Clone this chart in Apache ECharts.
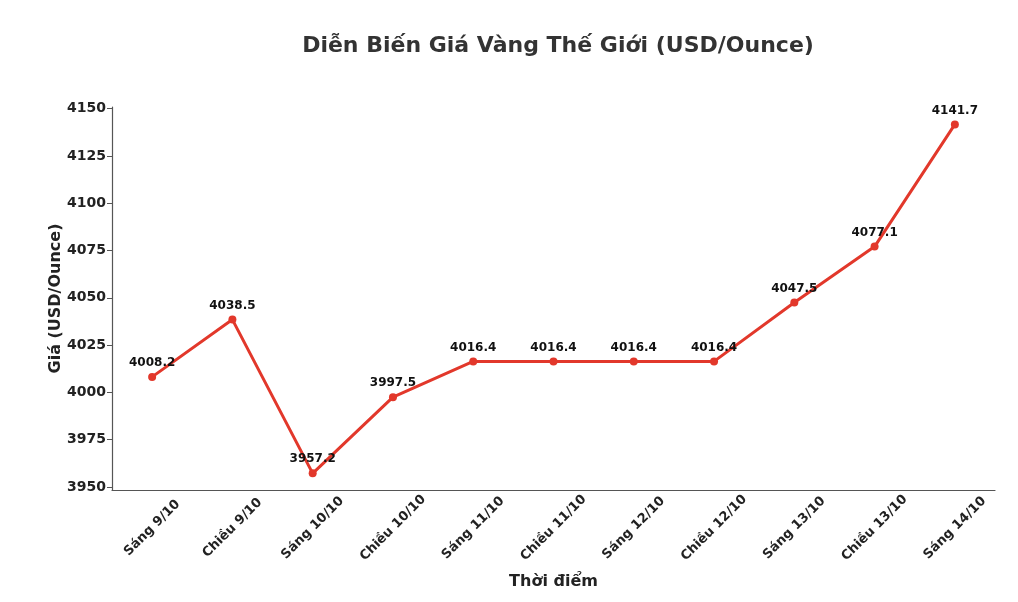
<!DOCTYPE html>
<html><head><meta charset="utf-8">
<script src="https://cdn.jsdelivr.net/npm/echarts@6/dist/echarts.min.js"></script>
<style>html,body{margin:0;padding:0;background:#fff}#c{width:1018px;height:602px}</style>
</head><body><div id="c"></div>
<script>
const categories = ['Sáng 9/10','Chiều 9/10','Sáng 10/10','Chiều 10/10','Sáng 11/10','Chiều 11/10','Sáng 12/10','Chiều 12/10','Sáng 13/10','Chiều 13/10','Sáng 14/10'];
const prices = [4008.2, 4038.5, 3957.2, 3997.5, 4016.4, 4016.4, 4016.4, 4016.4, 4047.5, 4077.1, 4141.7];
const yTicks = [3950, 3975, 4000, 4025, 4050, 4075, 4100, 4125, 4150];
const FONT = 'DejaVu Sans';
const chart = echarts.init(document.getElementById('c'), null, {renderer:'canvas'});
chart.setOption({
  animation:false,
  backgroundColor:'#fff',
  title:{text:'Diễn Biến Giá Vàng Thế Giới (USD/Ounce)', left:553, top:30, textAlign:'center',
    textStyle:{fontFamily:FONT, fontWeight:'bold', fontSize:22, color:'#333'}},
  grid:{left:112, right:23, top:107, bottom:112},
  xAxis:{type:'category', data:categories, boundaryGap:true,
    name:'Thời điểm', nameLocation:'middle', nameGap:84,
    nameTextStyle:{fontFamily:FONT, fontWeight:'bold', fontSize:16, color:'#222'},
    axisLine:{lineStyle:{color:'#555', width:1.2}},
    axisTick:{alignWithLabel:true, length:5, lineStyle:{color:'#555'}},
    axisLabel:{rotate:45, align:'center', verticalAlign:'middle', fontFamily:FONT, fontWeight:'bold', fontSize:13, color:'#222', margin:38, interval:0},
    splitLine:{show:false}},
  yAxis:{type:'value', min:3948.4, max:4150.9,
    name:'Giá (USD/Ounce)', nameLocation:'middle', nameGap:48, nameRotate:90, nameMoveOverlap:false,
    nameTextStyle:{fontFamily:FONT, fontWeight:'bold', fontSize:16, color:'#222'},
    axisLine:{show:true, lineStyle:{color:'#555', width:1.2}},
    axisTick:{show:true, length:5, lineStyle:{color:'#555'}, customValues: yTicks},
    axisLabel:{fontFamily:FONT, fontWeight:'bold', fontSize:14, color:'#222', margin:6, customValues: yTicks,
      formatter:v=>String(v)},
    splitLine:{show:false}},
  series:[{type:'line', data:prices, symbol:'circle', symbolSize:8,
    lineStyle:{color:'#e2382b', width:3}, itemStyle:{color:'#e2382b'},
    label:{show:true, position:'top', distance:4, fontFamily:FONT, fontWeight:'bold', fontSize:12, color:'#111',
      formatter:p=>p.value.toFixed(1)}}]
});
</script></body></html>
